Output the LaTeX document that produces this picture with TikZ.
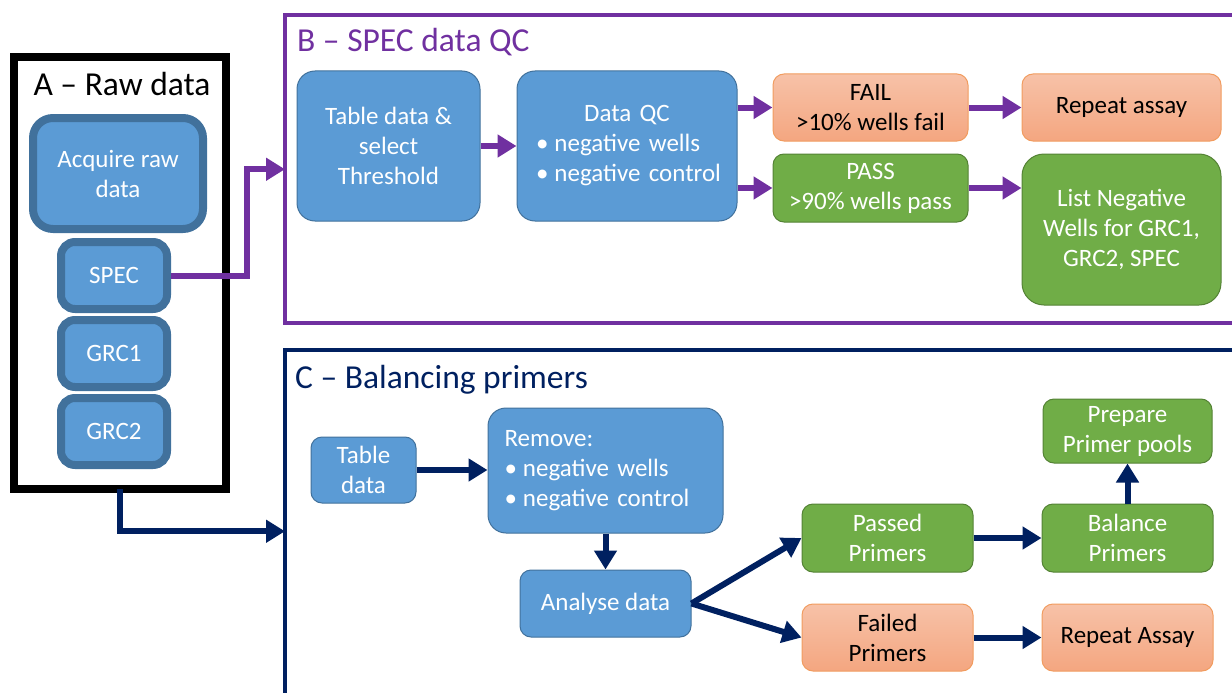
\documentclass[tikz,border=0pt]{standalone}
\usepackage{fontspec}
\setmainfont{Carlito}
\usetikzlibrary{arrows.meta,positioning}
\definecolor{boxblue}{HTML}{5B9BD5}
\definecolor{lineblue}{HTML}{41719C}
\definecolor{purp}{HTML}{7030A0}
\definecolor{navy}{HTML}{002060}
\definecolor{passgreen}{HTML}{70AD47}
\definecolor{linegreen}{HTML}{548235}
\definecolor{failtop}{HTML}{F7C2A8}
\definecolor{failbot}{HTML}{F4A680}
\definecolor{lineorange}{HTML}{F19C5F}
\begin{document}
\begin{tikzpicture}[x=1pt,y=-1pt,
		every node/.style={font=\fontsize{25}{30}\selectfont},
		blue/.style={draw=lineblue,fill=boxblue,text=white,line width=1,rounded corners=18,align=center},
		raw/.style={draw=lineblue,fill=boxblue,text=white,line width=8,rounded corners=14,align=center},
		fail/.style={draw=lineorange,top color=failtop,bottom color=failbot,text=black,line width=1,rounded corners=11,align=center},
		pass/.style={draw=linegreen,fill=passgreen,text=white,line width=1,rounded corners=11,align=center},
		frame/.style={line width=4,inner sep=0,outer sep=0},
		title/.style={font=\fontsize{33.5}{38}\selectfont,anchor=base west,inner sep=0},
		purparrow/.style={draw=purp,line width=6,-{Triangle[length=19pt,width=22pt]}},
		navyarrow/.style={draw=navy,line width=6,-{Triangle[length=19pt,width=22pt]}}]
	\useasboundingbox (0,0) rectangle (1232,693);
	\clip (0,0) rectangle (1232,693);
	\node[frame,draw=black,line width=8,minimum width=212,minimum height=431.5] (fa) at (120,273.25) {};
	\node[frame,draw=purp,minimum width=960,minimum height=307.5] (fb) at (765,169.25) {};
	\node[frame,draw=navy,minimum width=960,minimum height=355.5] (fc) at (765,527.25) {};
	\node[font=\fontsize{33.5}{38}\selectfont] (ta) at (122,84) {A -- Raw data};
	\node[title,text=purp] (tb) at (297,52) {B -- SPEC data QC};
	\node[title,text=navy] (tc) at (295,388) {C -- Balancing primers};
	\node[raw,minimum width=170,minimum height=111,rounded corners=20] (acq) at (118,173.5) {Acquire raw\\data};
	\foreach \nm/\yy in {SPEC/275.5,GRC1/353.5,GRC2/431.5}
		\node[raw,minimum width=106,minimum height=67] (\nm) at (114,\yy) {\nm};
	\node[blue,minimum width=183,minimum height=150] (tbl) at (388.5,146) {Table data \&\\select\\Threshold};
	\node[blue,minimum width=220,minimum height=150,text width=182,align=left] (qc) at (627,146)
		{\makebox[\linewidth]{Data QC}\\\mbox{\textbullet\hspace{6pt}negative wells}\\\mbox{\textbullet\hspace{6pt}negative control}};
	\node[fail,minimum width=195,minimum height=67] (failb) at (870.5,107.5) {FAIL\\>10\% wells fail};
	\node[fail,minimum width=199,minimum height=67] (repb) at (1121.5,107.5) {Repeat assay};
	\node[pass,minimum width=195,minimum height=68] (passb) at (870.5,188) {PASS\\>90\% wells pass};
	\node[pass,minimum width=199,minimum height=151,rounded corners=22] (list) at (1121.5,229.5) {List Negative\\Wells for GRC1,\\GRC2, SPEC};
	\node[blue,minimum width=105,minimum height=66,rounded corners=11] (tblc) at (363.5,470) {Table\\data};
	\node[blue,minimum width=235,minimum height=125,text width=202,align=left] (rem) at (605.5,470.5)
		{Remove:\\\mbox{\textbullet\hspace{6pt}negative wells}\\\mbox{\textbullet\hspace{6pt}negative control}};
	\node[blue,minimum width=171,minimum height=67,rounded corners=11] (ana) at (605.5,603.5) {Analyse data};
	\node[pass,minimum width=171,minimum height=68] (passc) at (887.5,538) {Passed\\Primers};
	\node[pass,minimum width=171,minimum height=68] (bal) at (1127.5,538) {Balance\\Primers};
	\node[pass,minimum width=169,minimum height=64] (prep) at (1127.5,431) {Prepare\\Primer pools};
	\node[fail,minimum width=171,minimum height=67] (failc) at (887.5,637.5) {Failed\\Primers};
	\node[fail,minimum width=171,minimum height=67] (repc) at (1127.5,637.5) {Repeat Assay};
	\draw[purparrow] (SPEC.east) -- ++(76,0) |- (fb.west);
	\draw[navyarrow] (fa.south) |- ([yshift=-4pt]fc.west);
	\draw[purparrow] (tbl) -- (qc);
	\draw[purparrow] (qc.east|-failb) -- (failb);
	\draw[purparrow] (qc.east|-passb) -- (passb);
	\draw[purparrow] (failb) -- (repb);
	\draw[purparrow] (passb) -- (passb-|list.west);
	\draw[navyarrow] (tblc) -- (tblc-|rem.west);
	\draw[navyarrow] (rem) -- (ana);
	\draw[navyarrow] (ana.east) -- (passc.west);
	\draw[navyarrow] (ana.east) -- (failc.west);
	\draw[navyarrow] (passc) -- (bal);
	\draw[navyarrow] (failc) -- (repc);
	\draw[navyarrow] (bal) -- (prep);
\end{tikzpicture}
\end{document}
